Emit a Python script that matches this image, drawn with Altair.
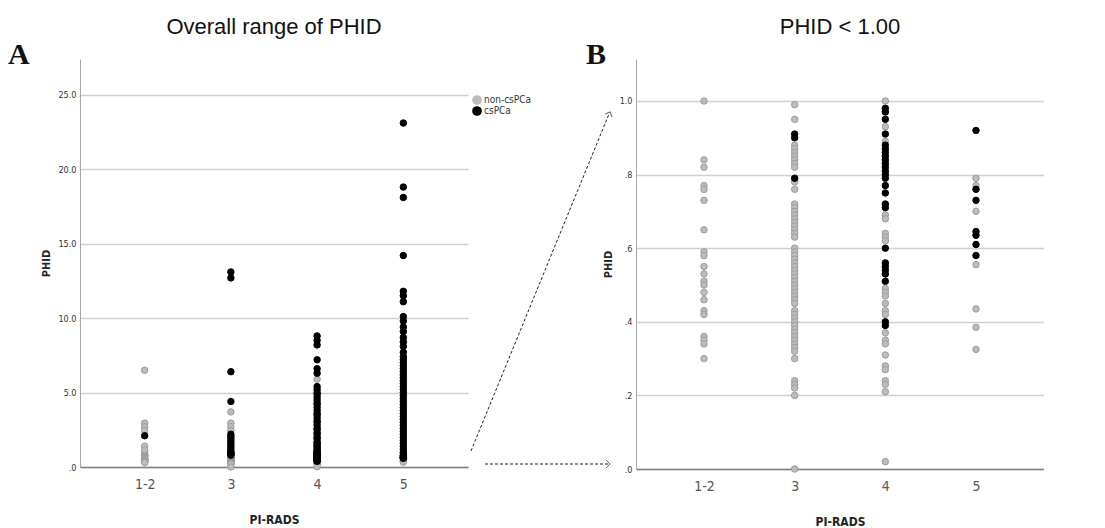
import altair as alt
import pandas as pd

pirads = ["1-2", "3", "4", "5"]
groups = ["non-csPCa", "csPCa"]

# ---- Panel B values (PHID < 1.00) ----
b12_non = [1.00, 0.84, 0.82, 0.77, 0.76, 0.73, 0.65, 0.59, 0.58, 0.55, 0.53, 0.51,
           0.50, 0.48, 0.46, 0.43, 0.42, 0.36, 0.35, 0.34, 0.30]
b12_cs = []
b3_non = [0.99, 0.95, 0.88, 0.87, 0.86, 0.85, 0.84, 0.83, 0.82, 0.78, 0.76, 0.72,
          0.71, 0.70, 0.69, 0.68, 0.67, 0.66, 0.65, 0.64, 0.63, 0.60, 0.59, 0.58,
          0.57, 0.56, 0.55, 0.54, 0.53, 0.52, 0.51, 0.50, 0.49, 0.48, 0.47, 0.46,
          0.45, 0.43, 0.42, 0.41, 0.40, 0.39, 0.38, 0.37, 0.36, 0.35, 0.34, 0.33,
          0.32, 0.30, 0.24, 0.23, 0.22, 0.20, 0.00]
b3_cs = [0.91, 0.90, 0.79]
b4_non = [1.00, 0.93, 0.89, 0.69, 0.68, 0.64, 0.63, 0.62, 0.49, 0.48, 0.47, 0.45,
          0.43, 0.42, 0.37, 0.35, 0.34, 0.31, 0.28, 0.27, 0.24, 0.23, 0.21, 0.02]
b4_cs = [0.98, 0.97, 0.95, 0.91, 0.88, 0.87, 0.86, 0.85, 0.84, 0.83, 0.82, 0.81,
         0.80, 0.79, 0.77, 0.75, 0.72, 0.71, 0.60, 0.56, 0.55, 0.54, 0.53, 0.51,
         0.40, 0.39]
b5_non = [0.79, 0.77, 0.70, 0.555, 0.435, 0.385, 0.325]
b5_cs = [0.92, 0.76, 0.73, 0.645, 0.635, 0.61, 0.58]

# ---- Additional panel A values (PHID >= 1.00) ----
a12_non = [6.5, 2.95, 2.7, 2.45, 1.4, 1.15]
a12_cs = [2.1]
a3_non = [3.7, 2.95, 2.7, 2.45]
a3_cs = [13.1, 12.7, 6.4, 4.4, 2.2, 2.05, 1.9, 1.75, 1.6, 1.45, 1.3, 1.15, 1.0]
a4_non = [5.9]
a4_cs = [8.8, 8.5, 8.2, 7.2, 6.6, 6.3, 5.4, 5.2, 5.0, 4.9, 4.7, 4.5, 4.3, 4.2,
         4.0, 3.8, 3.6, 3.5, 3.3, 3.1, 3.0, 2.8, 2.6, 2.5, 2.3, 2.2, 2.0, 1.9,
         1.7, 1.6, 1.5, 1.4, 1.3, 1.2, 1.1, 1.0]
a5_non = []
a5_cs = [23.1, 18.8, 18.1, 14.2, 11.8, 11.5, 11.1, 10.1, 9.8, 9.4, 9.1, 8.7,
         8.4, 8.1, 7.7, 7.4, 7.2, 7.0, 6.8, 6.6, 6.4, 6.2, 6.0, 5.8, 5.6, 5.4,
         5.2, 5.0, 4.8, 4.6, 4.4, 4.2, 4.0, 3.8, 3.6, 3.4, 3.2, 3.0, 2.8, 2.6,
         2.4, 2.2, 2.0, 1.8, 1.6, 1.4, 1.2, 1.0]


def build(parts):
    rows = []
    for cat, grp, vals in parts:
        rows += [{"pirads": cat, "phid": v, "group": grp} for v in vals]
    return pd.DataFrame(rows)


b_non = [("1-2", "non-csPCa", b12_non), ("3", "non-csPCa", b3_non),
         ("4", "non-csPCa", b4_non), ("5", "non-csPCa", b5_non)]
b_cs = [("1-2", "csPCa", b12_cs), ("3", "csPCa", b3_cs),
        ("4", "csPCa", b4_cs), ("5", "csPCa", b5_cs)]
a_non = [("1-2", "non-csPCa", a12_non), ("3", "non-csPCa", a3_non),
         ("4", "non-csPCa", a4_non), ("5", "non-csPCa", a5_non)]
a_cs = [("1-2", "csPCa", a12_cs), ("3", "csPCa", a3_cs),
        ("4", "csPCa", a4_cs), ("5", "csPCa", a5_cs)]

df_b = build(b_non + b_cs)
df_a = build(b_non + a_non + b_cs + a_cs)

NARROW = "Liberation Sans Narrow, Arial Narrow, DejaVu Sans Condensed, sans-serif"
SANS = "Liberation Sans, Arial, sans-serif"
ONE = pd.DataFrame({"t": [""]})


def panel(df, ymax, yticks, label_expr, width, height, title, letter, letter_x, legend_y):
    color = alt.Color(
        "group:N",
        scale=alt.Scale(domain=groups, range=["#bcbcbc", "#000000"]),
        legend=alt.Legend(title=None, orient="none", legendX=width + 4,
                          legendY=legend_y, symbolType="circle", symbolSize=95,
                          symbolStrokeWidth=0, labelFont=NARROW, labelFontSize=10,
                          labelColor="#333333", rowPadding=1, labelOffset=2),
    )
    pts = alt.Chart(df).mark_circle(size=42, opacity=1, strokeWidth=1).encode(
        x=alt.X("pirads:N", sort=pirads,
                scale=alt.Scale(type="point", domain=pirads, padding=0.75),
                axis=alt.Axis(title="PI-RADS", labelAngle=0, ticks=False, grid=False,
                              labelFont=NARROW, labelFontSize=14, labelColor="#555555",
                              labelPadding=10, domainColor="#808080", domainWidth=1.5,
                              titleFont=NARROW, titleFontSize=12, titleFontWeight="bold",
                              titleColor="#222222", titlePadding=23)),
        y=alt.Y("phid:Q", scale=alt.Scale(domain=[0, ymax], nice=False, zero=True),
                axis=alt.Axis(title="PHID", values=yticks, labelExpr=label_expr,
                              ticks=False, grid=True, gridColor="#d0d0d0", gridWidth=1.5,
                              labelFont=NARROW, labelFontSize=9, labelColor="#333333",
                              labelPadding=4, domainColor="#a8a8a8", domainWidth=1,
                              titleFont=NARROW, titleFontSize=11, titleFontWeight="bold",
                              titleColor="#222222", titlePadding=6)),
        color=color,
        stroke=alt.Stroke("group:N",
                          scale=alt.Scale(domain=groups, range=["#9c9c9c", "#000000"]),
                          legend=None),
    )
    let = alt.Chart(ONE).mark_text(
        text=letter, font="Liberation Serif, DejaVu Serif, serif", fontWeight="bold",
        fontSize=30, align="left", baseline="alphabetic", color="#111111",
    ).encode(x=alt.value(letter_x), y=alt.value(5))
    return alt.layer(pts, let).properties(
        width=width, height=height,
        title=alt.TitleParams(title, font=SANS, fontSize=22, fontWeight="normal",
                              color="#111111", anchor="middle", frame="group",
                              offset=1),
    )


left = panel(df_a, 27.4, [0, 5, 10, 15, 20, 25],
             "datum.value == 0 ? '.0' : format(datum.value, '.1f')",
             388, 408, "Overall range of PHID", "A", -72, 36)

# dashed zoom arrows drawn from the left panel towards panel B
arrow1 = alt.Chart(ONE).mark_rule(color="#222222", strokeDash=[3, 2], strokeWidth=1).encode(
    x=alt.value(391), y=alt.value(392), x2=alt.value(529), y2=alt.value(55))
head1 = alt.Chart(ONE).mark_point(shape="M-1,-1L0,0L-1,1", filled=False, size=60,
                                  color="#222222", strokeWidth=1, angle=292).encode(
    x=alt.value(530), y=alt.value(53))
arrow2 = alt.Chart(ONE).mark_rule(color="#222222", strokeDash=[3, 2], strokeWidth=1).encode(
    x=alt.value(405), y=alt.value(405), x2=alt.value(529), y2=alt.value(405))
head2 = alt.Chart(ONE).mark_point(shape="M-1,-1L0,0L-1,1", filled=False, size=60,
                                  color="#222222", strokeWidth=1, angle=0).encode(
    x=alt.value(530), y=alt.value(405))

left = alt.layer(left, arrow1, head1, arrow2, head2)

right = panel(df_b, 1.114, [0, 0.2, 0.4, 0.6, 0.8, 1.0],
              "datum.value == 0 ? '.0' : (datum.value >= 1 ? '1.0' : replace(format(datum.value, '.1f'), '0.', '.'))",
              408, 410, "PHID < 1.00", "B", -50, 42)

chart = alt.hconcat(left, right, spacing=168, bounds="flush").properties(
    padding={"left": 0, "top": 8, "right": 0, "bottom": 0}
).configure_view(stroke=None)

chart.save("out.html", embed_options={"renderer": "svg", "actions": False})
